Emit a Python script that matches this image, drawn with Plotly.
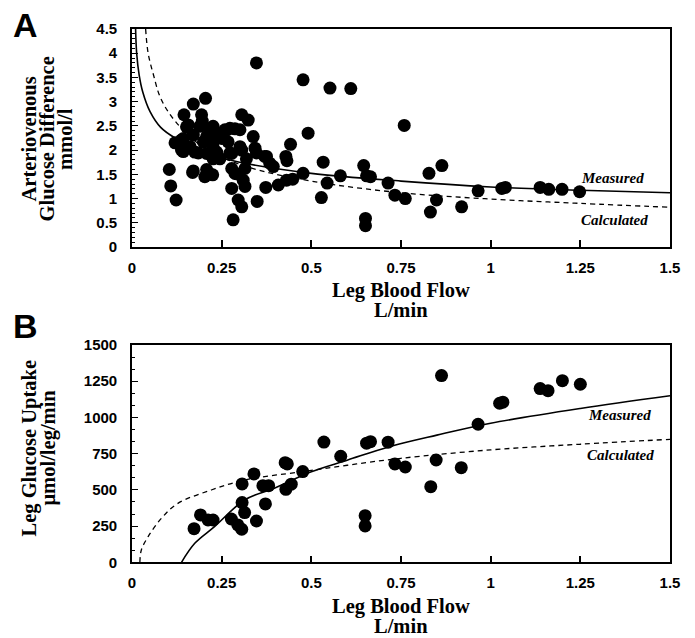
import plotly.graph_objects as go

# ---------------- Panel A data ----------------
a_flow = [0.104, 0.108, 0.123, 0.120, 0.143, 0.138, 0.145, 0.157, 0.171, 0.169,
          0.194, 0.205, 0.203, 0.225, 0.208, 0.189, 0.185, 0.208, 0.226, 0.240,
          0.245, 0.273, 0.226, 0.162, 0.273, 0.301, 0.306, 0.324, 0.338, 0.306,
          0.347, 0.375, 0.384, 0.394, 0.347, 0.278, 0.287, 0.310, 0.315, 0.296,
          0.306, 0.282, 0.349, 0.373, 0.408, 0.431, 0.448, 0.429, 0.442, 0.432,
          0.477, 0.491, 0.477, 0.533, 0.528, 0.544, 0.552, 0.581, 0.610,
          0.152, 0.171, 0.175, 0.199, 0.226, 0.208, 0.236, 0.264, 0.250, 0.287,
          0.268, 0.278, 0.226, 0.245, 0.319, 0.278, 0.292, 0.315, 0.259, 0.343,
          0.370, 0.301, 0.217, 0.143, 0.138, 0.171, 0.217, 0.196, 0.235,
          0.646, 0.654, 0.665, 0.651, 0.651, 0.714, 0.733, 0.762, 0.759, 0.828,
          0.864, 0.849, 0.832, 0.919, 0.965, 1.031, 1.041, 1.138, 1.162, 1.199, 1.248]
a_avdiff = [1.60, 1.26, 0.97, 2.15, 1.97, 2.21, 2.73, 2.52, 2.95, 1.54,
            2.73, 3.07, 1.45, 1.49, 1.60, 2.49, 1.94, 2.28, 2.07, 1.87,
            2.28, 2.45, 2.49, 2.07, 1.94, 2.42, 2.73, 2.62, 2.28, 2.00,
            1.94, 1.87, 1.73, 1.66, 3.80, 1.21, 1.52, 1.38, 1.25, 0.97,
            0.83, 0.56, 0.94, 1.23, 1.28, 1.38, 1.40, 1.87, 2.12, 1.78,
            1.52, 2.35, 3.45, 1.75, 1.02, 1.32, 3.28, 1.47, 3.27,
            2.48, 2.31, 1.96, 2.17, 2.17, 1.93, 1.96, 2.41, 2.24, 2.44,
            2.17, 1.93, 1.82, 1.82, 1.82, 1.62, 1.51, 1.62, 2.42, 2.04,
            1.87, 2.07, 2.44, 2.24, 2.00, 1.57, 1.51, 2.60, 2.35,
            1.68, 1.47, 1.45, 0.59, 0.44, 1.32, 1.07, 1.00, 2.51, 1.52,
            1.68, 0.97, 0.72, 0.83, 1.16, 1.21, 1.23, 1.23, 1.19, 1.19, 1.14]

a_meas_x = [0.010, 0.013, 0.020, 0.030, 0.050, 0.080, 0.120, 0.200, 0.300, 0.500, 0.750, 1.000, 1.250, 1.500]
a_meas_y = [4.50, 4.00, 3.55, 3.20, 2.80, 2.47, 2.25, 1.95, 1.75, 1.52, 1.36, 1.24, 1.17, 1.12]
a_calc_x = [0.038, 0.045, 0.060, 0.080, 0.120, 0.200, 0.320, 0.500, 0.750, 1.000, 1.250, 1.500]
a_calc_y = [4.50, 4.00, 3.55, 3.07, 2.60, 2.05, 1.66, 1.36, 1.12, 0.99, 0.90, 0.82]

# ---------------- Panel B data ----------------
b_flow = [0.173, 0.191, 0.212, 0.226, 0.277, 0.295, 0.306, 0.307, 0.314, 0.307,
          0.340, 0.347, 0.365, 0.381, 0.372, 0.427, 0.433, 0.429, 0.444, 0.476,
          0.535, 0.582, 0.654, 0.665, 0.714, 0.733, 0.762, 0.650, 0.650, 0.863,
          0.848, 0.833, 0.918, 0.965, 1.025, 1.034, 1.138, 1.160, 1.200, 1.250]
b_uptake = [232, 327, 292, 292, 299, 258, 228, 412, 343, 541,
            610, 285, 529, 529, 403, 688, 679, 504, 539, 626,
            830, 732, 822, 833, 829, 679, 658, 322, 251, 1289,
            706, 522, 653, 953, 1098, 1105, 1199, 1185, 1254, 1229]

b_meas_x = [0.138, 0.175, 0.230, 0.314, 0.400, 0.500, 0.600, 0.720, 0.850, 1.000, 1.250, 1.500]
b_meas_y = [0, 131, 246, 430, 515, 625, 705, 800, 878, 960, 1062, 1150]
b_calc_x = [0.022, 0.026, 0.045, 0.082, 0.128, 0.221, 0.314, 0.472, 0.600, 0.750, 1.000, 1.250, 1.500]
b_calc_y = [0, 85, 177, 304, 407, 499, 568, 625, 670, 718, 776, 815, 849]

x_ticks = [0, 0.25, 0.5, 0.75, 1, 1.25, 1.5]
x_ticklabels = ["0", "0.25", "0.5", "0.75", "1", "1.25", "1.5"]
a_yticks = [0, 0.5, 1, 1.5, 2, 2.5, 3, 3.5, 4, 4.5]
a_yticklabels = ["0", "0.5", "1", "1.5", "2", "2.5", "3", "3.5", "4", "4.5"]
b_yticks = [0, 250, 500, 750, 1000, 1250, 1500]
b_yticklabels = ["0", "250", "500", "750", "1000", "1250", "1500"]

W, H = 695, 638
def px_x(p): return p / W
def px_y(p): return 1 - p / H

fig = go.Figure()
mk = dict(color="black", size=13)
fig.add_trace(go.Scatter(x=a_flow, y=a_avdiff, mode="markers", marker=mk, xaxis="x", yaxis="y"))
fig.add_trace(go.Scatter(x=a_meas_x, y=a_meas_y, mode="lines", line=dict(color="black", width=1.6, shape="spline"), xaxis="x", yaxis="y"))
fig.add_trace(go.Scatter(x=a_calc_x, y=a_calc_y, mode="lines", line=dict(color="black", width=1.3, dash="5px,4px", shape="spline"), xaxis="x", yaxis="y"))
fig.add_trace(go.Scatter(x=b_flow, y=b_uptake, mode="markers", marker=mk, xaxis="x2", yaxis="y2"))
fig.add_trace(go.Scatter(x=b_meas_x, y=b_meas_y, mode="lines", line=dict(color="black", width=1.6, shape="spline"), xaxis="x2", yaxis="y2"))
fig.add_trace(go.Scatter(x=b_calc_x, y=b_calc_y, mode="lines", line=dict(color="black", width=1.3, dash="5px,4px", shape="spline"), xaxis="x2", yaxis="y2"))

tickfont = dict(family="Liberation Sans", size=15, color="black", weight="bold")
xdom = [px_x(132), px_x(670)]
common_x = dict(range=[0, 1.5], tickvals=x_ticks, ticktext=x_ticklabels, ticks="inside", ticklen=7,
                tickwidth=1.5, tickcolor="black", showline=True, linecolor="black", linewidth=1.6,
                mirror=True, showgrid=False, zeroline=False, tickfont=tickfont, ticklabelstandoff=6,
                domain=xdom, fixedrange=True, automargin=False)
common_y = dict(ticks="inside", ticklen=6, tickwidth=1.3, tickcolor="black", showline=True,
                linecolor="black", linewidth=1.6, mirror=True, showgrid=False, zeroline=False,
                tickfont=tickfont, ticklabelstandoff=10, fixedrange=True, automargin=False)

fig.update_layout(
    width=W, height=H, margin=dict(l=0, r=0, t=0, b=0, autoexpand=False),
    paper_bgcolor="white", plot_bgcolor="white", showlegend=False,
    xaxis=dict(**common_x, anchor="y"),
    yaxis=dict(**common_y, anchor="x", range=[0, 4.5], tickvals=a_yticks, ticktext=a_yticklabels,
               domain=[px_y(247), px_y(29)],
               minor=dict(dtick=0.1, ticks="inside", ticklen=3, tickcolor="black", tickwidth=1)),
    xaxis2=dict(**common_x, anchor="y2"),
    yaxis2=dict(**common_y, anchor="x2", range=[0, 1500], tickvals=b_yticks, ticktext=b_yticklabels,
                domain=[px_y(562.3), px_y(345)],
                minor=dict(tick0=0, dtick=250 / 3, ticks="inside", ticklen=3, tickcolor="black", tickwidth=1)),
)

serif = dict(family="Liberation Serif", size=20.5, color="black", weight="bold")
ann = []
def add_text(text, x, y, font, angle=0, xanchor="center", yanchor="middle"):
    ann.append(dict(text=text, x=px_x(x), y=px_y(y), xref="paper", yref="paper", showarrow=False,
                    font=font, textangle=angle, xanchor=xanchor, yanchor=yanchor))

# Panel letters
letter_font = dict(family="Liberation Sans", size=34, color="black", weight="bold")
add_text("A", 25, 25, letter_font)
add_text("B", 25, 326, letter_font)

# Axis titles
for yc in (290, 606):
    add_text("Leg Blood Flow", 401, yc, serif)
for yc in (310, 626):
    add_text("L/min", 401, yc, serif)
add_text("Arteriovenous", 28.5, 139, serif, angle=-90)
add_text("Glucose Difference", 46.5, 139, serif, angle=-90)
add_text("mmol/l", 65, 139, serif, angle=-90)
add_text("Leg Glucose Uptake", 28.5, 448, serif, angle=-90)
add_text("μmol/leg/min", 47.5, 448, serif, angle=-90)

# Curve labels
lab_font = dict(family="Liberation Serif", size=15, color="black", weight="bold", style="italic")
add_text("Measured", 612, 178, lab_font)
add_text("Calculated", 614, 220, lab_font)
add_text("Measured", 619, 415, lab_font)
add_text("Calculated", 620, 455, lab_font)

fig.update_layout(annotations=ann)
fig.write_html("out.html", config={"displayModeBar": False},
               post_script="document.body.style.margin='0px';document.body.style.overflow='hidden';")
